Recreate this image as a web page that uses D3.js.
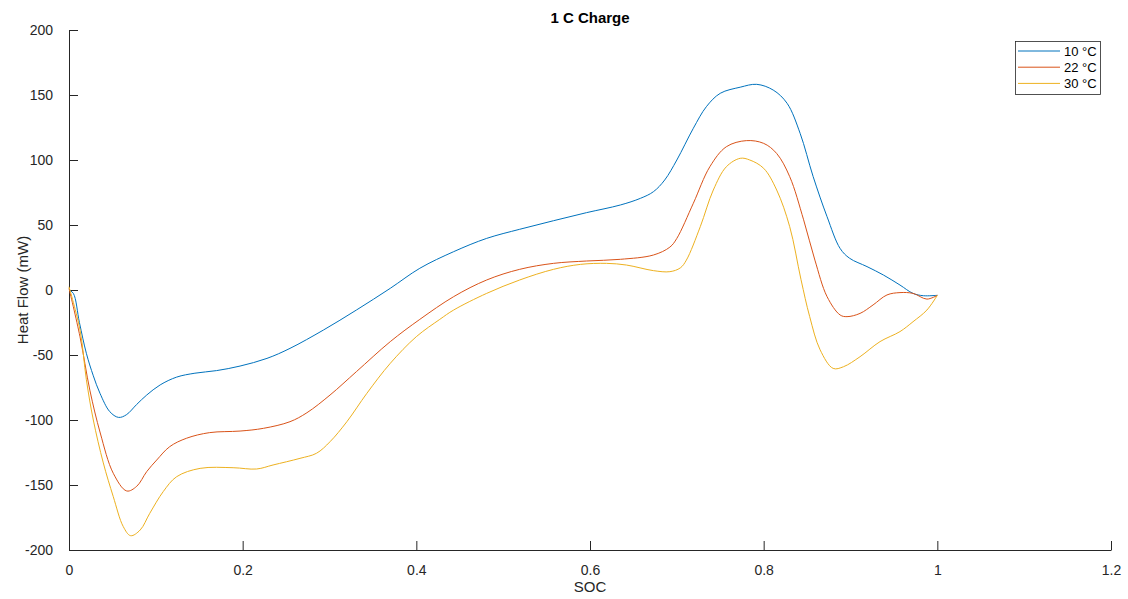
<!DOCTYPE html>
<html>
<head>
<meta charset="utf-8">
<script src="https://cdn.jsdelivr.net/npm/d3@7"></script>
<style>
  html, body { margin: 0; padding: 0; background: #fff; }
  svg { display: block; font-family: "Liberation Sans", Arial, Helvetica, sans-serif; }
</style>
</head>
<body>
<svg id="chart" width="1128" height="599"></svg>
<script>
const title = "1 C Charge";
const xLabel = "SOC";
const yLabel = "Heat Flow (mW)";
const seriesNames = ["10 °C", "22 °C", "30 °C"];
const seriesColors = ["#0072BD", "#D95319", "#EDB120"];
const xTicks = [0, 0.2, 0.4, 0.6, 0.8, 1, 1.2];
const xTickLabels = ["0", "0.2", "0.4", "0.6", "0.8", "1", "1.2"];
const yTicks = [-200, -150, -100, -50, 0, 50, 100, 150, 200];
const yTickLabels = ["-200", "-150", "-100", "-50", "0", "50", "100", "150", "200"];

const soc10 = [0, 0.005, 0.012, 0.020, 0.028, 0.0357, 0.047, 0.057, 0.066, 0.078, 0.0895, 0.105, 0.124, 0.145, 0.17, 0.197, 0.228, 0.2545, 0.293, 0.331, 0.370, 0.404, 0.443, 0.481, 0.519, 0.558, 0.596, 0.635, 0.658, 0.673, 0.686, 0.700, 0.719, 0.734, 0.750, 0.773, 0.792, 0.811, 0.827, 0.842, 0.857, 0.873, 0.888, 0.899, 0.919, 0.938, 0.957, 0.972, 0.984, 1.0];
const heat10 = [0, -2.6, -25, -48.7, -66, -79.5, -93.6, -98, -96, -88, -80.8, -73, -67, -64, -62, -58.5, -52.6, -44.9, -30.8, -15.4, 1.3, 16.7, 29.5, 39.7, 46.7, 53.3, 59.5, 65.4, 70.5, 75.6, 84.6, 100, 124.4, 141, 151.3, 156, 158.2, 153.8, 143.6, 120.5, 87.2, 56.4, 32, 24.4, 18, 11.5, 3.8, -2.6, -4.4, -4.1];

const soc22 = [0, 0.0127, 0.024, 0.036, 0.051, 0.0665, 0.078, 0.0895, 0.101, 0.116, 0.1355, 0.162, 0.197, 0.224, 0.2545, 0.274, 0.3006, 0.331, 0.370, 0.404, 0.443, 0.481, 0.519, 0.558, 0.596, 0.635, 0.673, 0.692, 0.700, 0.719, 0.738, 0.757, 0.780, 0.800, 0.815, 0.830, 0.846, 0.859, 0.873, 0.888, 0.896, 0.911, 0.926, 0.942, 0.957, 0.972, 0.988, 1.0];
const heat22 = [1.3, -36, -77, -110, -141, -154.6, -151, -139.7, -130.8, -120.5, -114, -109.7, -108.5, -106.4, -101.3, -94.4, -80.8, -62.8, -39.7, -22.6, -5.1, 7.7, 15.9, 20.5, 22.3, 23.6, 26.9, 33, 39.7, 66.7, 94.8, 110.2, 114.9, 112.8, 105, 87.2, 54, 23, -5.1, -19.2, -20.5, -18, -11.5, -3.8, -2, -2.6, -7, -4.1];

const soc30 = [0, 0.0127, 0.020, 0.028, 0.0395, 0.051, 0.0625, 0.071, 0.082, 0.093, 0.1086, 0.124, 0.151, 0.189, 0.216, 0.235, 0.266, 0.285, 0.3006, 0.320, 0.343, 0.370, 0.400, 0.427, 0.443, 0.481, 0.519, 0.558, 0.589, 0.619, 0.642, 0.673, 0.692, 0.704, 0.711, 0.727, 0.742, 0.757, 0.773, 0.784, 0.800, 0.815, 0.830, 0.843, 0.853, 0.865, 0.880, 0.892, 0.911, 0.934, 0.957, 0.972, 0.988, 1.0];
const heat30 = [2.5, -30.8, -69, -100, -133, -159, -182, -189, -184.6, -171.8, -155, -143.6, -137.2, -136.7, -137.7, -134.6, -129.5, -125.6, -116.7, -101.3, -79.5, -56.4, -35.9, -22.6, -15.4, -2.6, 7.7, 15.9, 19.7, 20.5, 19.2, 14.9, 14.1, 17, 23, 48.7, 76.9, 94.8, 101.3, 100, 93.6, 76.9, 48.7, 8, -20.5, -46, -60.3, -59, -51.3, -39.7, -32, -24.4, -15.4, -4.1];

const seriesX = [soc10, soc22, soc30];
const seriesY = [heat10, heat22, heat30];

const svg = d3.select("#chart");
const mLeft = 69, mRight = 1111, mTop = 30, mBottom = 550;
const axisColor = "#262626";

const x = d3.scaleLinear().domain([0, 1.2]).range([mLeft, mRight]);
const y = d3.scaleLinear().domain([-200, 200]).range([mBottom, mTop]);

// y axis
const yAxis = d3.axisLeft(y).tickValues(yTicks).tickFormat((d, i) => yTickLabels[i]).tickSizeInner(-9).tickSizeOuter(0).tickPadding(16);
const gy = svg.append("g").attr("transform", `translate(${mLeft},0)`).call(yAxis);
gy.select(".domain").attr("stroke", axisColor);
gy.selectAll(".tick line").attr("stroke", axisColor);
gy.selectAll(".tick text").attr("fill", axisColor).style("font-size", "14px");

// x axis
const xAxis = d3.axisBottom(x).tickValues(xTicks).tickFormat((d, i) => xTickLabels[i]).tickSizeInner(-9).tickSizeOuter(0).tickPadding(15);
const gx = svg.append("g").attr("transform", `translate(0,${mBottom})`).call(xAxis);
gx.select(".domain").attr("stroke", axisColor);
gx.selectAll(".tick line").attr("stroke", axisColor);
gx.selectAll(".tick text").attr("fill", axisColor).style("font-size", "14px");

// lines
const line = d3.line().x(d => x(d[0])).y(d => y(d[1])).curve(d3.curveCatmullRom.alpha(0.5));
seriesX.forEach((xs, i) => {
  const pts = xs.map((v, j) => [v, seriesY[i][j]]);
  svg.append("path").datum(pts)
    .attr("fill", "none")
    .attr("stroke", seriesColors[i])
    .attr("stroke-width", 1)
    .attr("d", line);
});

// title & labels
svg.append("text").attr("x", (mLeft + mRight) / 2).attr("y", 23).attr("text-anchor", "middle")
  .style("font-size", "15px").style("font-weight", "bold").attr("fill", "#000").text(title);
svg.append("text").attr("x", (mLeft + mRight) / 2).attr("y", 592).attr("text-anchor", "middle")
  .style("font-size", "15px").attr("fill", axisColor).text(xLabel);
svg.append("text").attr("transform", `translate(28,${(mTop + mBottom) / 2}) rotate(-90)`).attr("text-anchor", "middle")
  .style("font-size", "15px").attr("fill", axisColor).text(yLabel);

// legend
const lg = svg.append("g");
lg.append("rect").attr("x", 1015.5).attr("y", 41.5).attr("width", 85).attr("height", 53)
  .attr("fill", "#fff").attr("stroke", axisColor).attr("stroke-width", 0.8);
seriesNames.forEach((name, i) => {
  const yy = 51 + i * 16.2;
  lg.append("line").attr("x1", 1018).attr("x2", 1060).attr("y1", yy).attr("y2", yy)
    .attr("stroke", seriesColors[i]).attr("stroke-width", 1);
  lg.append("text").attr("x", 1064).attr("y", yy + 4.5).style("font-size", "13px").attr("fill", "#000").text(name);
});
</script>
</body>
</html>
